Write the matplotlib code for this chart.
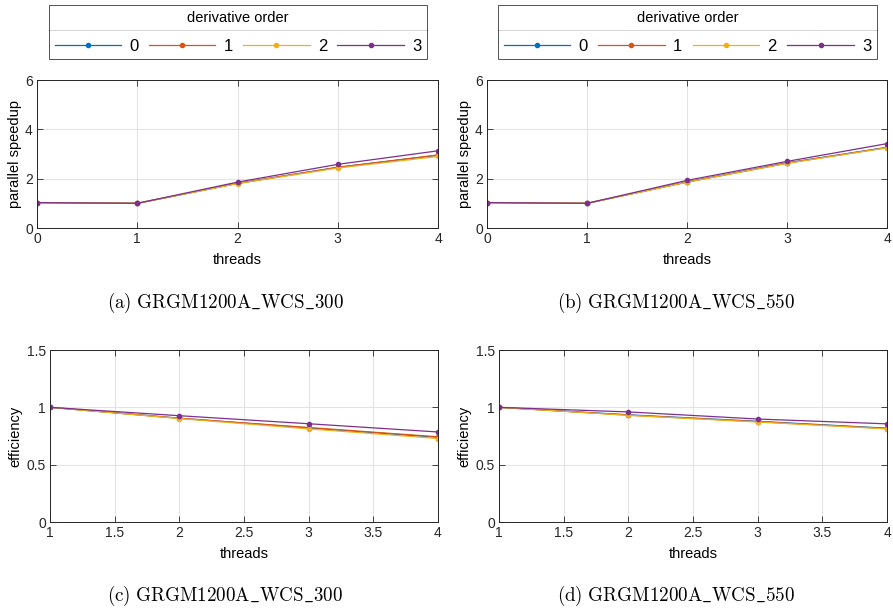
import matplotlib.pyplot as plt
from matplotlib.lines import Line2D

# data
orders = ['0', '1', '2', '3']
threads_su = [0, 1, 2, 3, 4]
threads_eff = [1, 2, 3, 4]

speedup_300 = [
    [1.03, 1.00, 1.81, 2.46, 2.95],
    [1.03, 1.00, 1.81, 2.46, 2.96],
    [1.03, 1.00, 1.80, 2.43, 2.90],
    [1.03, 1.00, 1.86, 2.58, 3.13],
]
speedup_550 = [
    [1.03, 1.00, 1.87, 2.64, 3.27],
    [1.03, 1.00, 1.86, 2.63, 3.26],
    [1.03, 1.00, 1.86, 2.62, 3.25],
    [1.03, 1.00, 1.93, 2.70, 3.42],
]
eff_300 = [
    [1.00, 0.905, 0.820, 0.738],
    [1.00, 0.905, 0.824, 0.743],
    [1.00, 0.902, 0.812, 0.728],
    [1.00, 0.927, 0.857, 0.785],
]
eff_550 = [
    [1.00, 0.935, 0.878, 0.818],
    [1.00, 0.932, 0.875, 0.815],
    [1.00, 0.930, 0.872, 0.812],
    [1.00, 0.960, 0.898, 0.856],
]
captions = ['(a)\\ GRGM1200A\\_WCS\\_300', '(b)\\ GRGM1200A\\_WCS\\_550',
            '(c)\\ GRGM1200A\\_WCS\\_300', '(d)\\ GRGM1200A\\_WCS\\_550']

colors = ['#0072BD', '#D95319', '#EDB120', '#7E2F8E']

plt.rcParams['font.family'] = ['Liberation Sans', 'DejaVu Sans']
plt.rcParams['mathtext.fontset'] = 'cm'

W, H = 893, 610
fig = plt.figure(figsize=(W / 100, H / 100), dpi=100)


def px(l, t, r, b):
    return [l / W, 1 - b / H, (r - l) / W, (b - t) / H]


def style_axes(ax):
    ax.grid(True, color='#e3e3e3', linewidth=0.8)
    ax.set_axisbelow(True)
    ax.tick_params(direction='in', top=True, right=True, length=4,
                   labelsize=10, colors='#262626', width=0.6, pad=3)
    for s in ax.spines.values():
        s.set_color('#262626')
        s.set_linewidth(0.7)


axes_su = [fig.add_axes(px(37, 80, 438, 228)), fig.add_axes(px(487, 80, 887, 228))]
axes_eff = [fig.add_axes(px(50, 350, 438, 522)), fig.add_axes(px(499, 350, 887, 522))]

for ax, data in zip(axes_su, [speedup_300, speedup_550]):
    for k in range(len(orders)):
        ax.plot(threads_su, data[k], color=colors[k], marker='.', markersize=6,
                linewidth=0.9, label=orders[k])
    ax.set_xlim(0, 4)
    ax.set_ylim(0, 6)
    ax.set_xticks([0, 1, 2, 3, 4])
    ax.set_yticks([0, 2, 4, 6])
    ax.set_xlabel('threads', fontsize=10.5, labelpad=5)
    ax.set_ylabel('parallel speedup', fontsize=10.5, labelpad=2)
    style_axes(ax)

for ax, data in zip(axes_eff, [eff_300, eff_550]):
    for k in range(len(orders)):
        ax.plot(threads_eff, data[k], color=colors[k], marker='.', markersize=6,
                linewidth=0.9, label=orders[k])
    ax.set_xlim(1, 4)
    ax.set_ylim(0, 1.5)
    ax.set_xticks([1, 1.5, 2, 2.5, 3, 3.5, 4])
    ax.set_xticklabels(['1', '1.5', '2', '2.5', '3', '3.5', '4'])
    ax.set_yticks([0, 0.5, 1, 1.5])
    ax.set_yticklabels(['0', '0.5', '1', '1.5'])
    ax.set_xlabel('threads', fontsize=10.5, labelpad=5)
    ax.set_ylabel('efficiency', fontsize=10.5, labelpad=3)
    style_axes(ax)

# legends above the top plots, MATLAB style with a line under the title
legends = []
for ax, (l, r) in zip(axes_su, [(49, 427), (498, 877)]):
    leg = fig.legend(*ax.get_legend_handles_labels(), ncol=4, title='derivative order',
                     loc='upper left', bbox_to_anchor=(l / W, 1 - 5 / H, (r - l) / W, 0.0),
                     mode='expand', fontsize=12, title_fontsize=10.5, handlelength=4.0,
                     handletextpad=0.5, frameon=True, fancybox=False, borderpad=0.33,
                     labelspacing=0.85, borderaxespad=0, columnspacing=1.0)
    leg.get_frame().set_edgecolor('#262626')
    leg.get_frame().set_linewidth(0.7)
    legends.append((leg, l, r))

fig.canvas.draw()
for leg, l, r in legends:
    tb = leg.get_title().get_window_extent()
    ymid = tb.y0 - 5
    fig.add_artist(Line2D([l / W, r / W], [ymid / H, ymid / H], color='#262626',
                          linewidth=0.7, transform=fig.transFigure))

for cap, (cx, cy) in zip(captions, [(225, 303), (676, 303), (225, 596), (676, 596)]):
    fig.text(cx / W, 1 - cy / H, '$\\mathrm{' + cap + '}$', ha='center', va='center',
             fontsize=13.7)

fig.savefig('out.png', dpi=100)
